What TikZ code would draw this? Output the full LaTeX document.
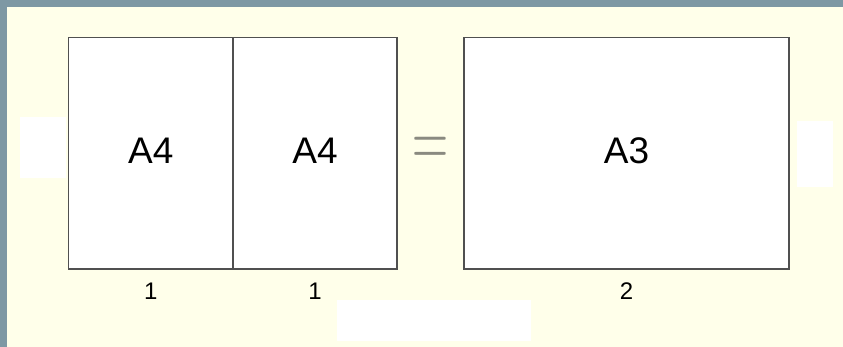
\documentclass[tikz,border=0pt]{standalone}
\usepackage{fontspec}
\setmainfont{Liberation Sans}
\newfontfamily\lmfont{Latin Modern Roman}
\definecolor{frameblue}{HTML}{7E98A4}
\definecolor{cream}{HTML}{FFFFEA}
\definecolor{edge}{HTML}{505050}
\definecolor{eqgray}{HTML}{8A8A80}
\tikzset{
  cell/.style={draw=edge, line width=1.3pt, fill=white},
  big/.style={font=\fontsize{37}{40}\selectfont, anchor=base, inner sep=0pt},
  small/.style={font=\fontsize{24}{28}\selectfont, anchor=base, inner sep=0pt},
  patch/.style={fill=white, draw=none}
}
\begin{document}
\begin{tikzpicture}[x=1pt,y=-1pt]
\useasboundingbox (0,0) rectangle (843,347);
\fill[frameblue] (0,0) rectangle (843,347);
\fill[cream] (7,7) rectangle (843,347);
% white patches
\fill[patch] (20,117) rectangle (66,178);
\fill[patch] (797,121) rectangle (833,187);
\fill[patch] (337,300) rectangle (531,341);
% boxes
\draw[cell] (68.5,37.5) rectangle (397,269);
\draw[edge, line width=1.3pt] (233,37.5) -- (233,269);
\draw[cell] (464,37.5) rectangle (789,269);
% texts
\node[big] (tl) at (150.7,164) {A4};
\node[big] (tm) at (315,164) {A4};
\node[big] (tr) at (626.5,164) {A3};
\node[font=\lmfont\fontsize{50}{50}\selectfont, text=eqgray, inner sep=0pt] (eq) at (430,152.5) {\scalebox{1}[1.7]{=}};
\node[small] (l1) at (150.7,300) {1};
\node[small] (l2) at (315,300) {1};
\node[small] (l3) at (626.5,300) {2};
\end{tikzpicture}
\end{document}
